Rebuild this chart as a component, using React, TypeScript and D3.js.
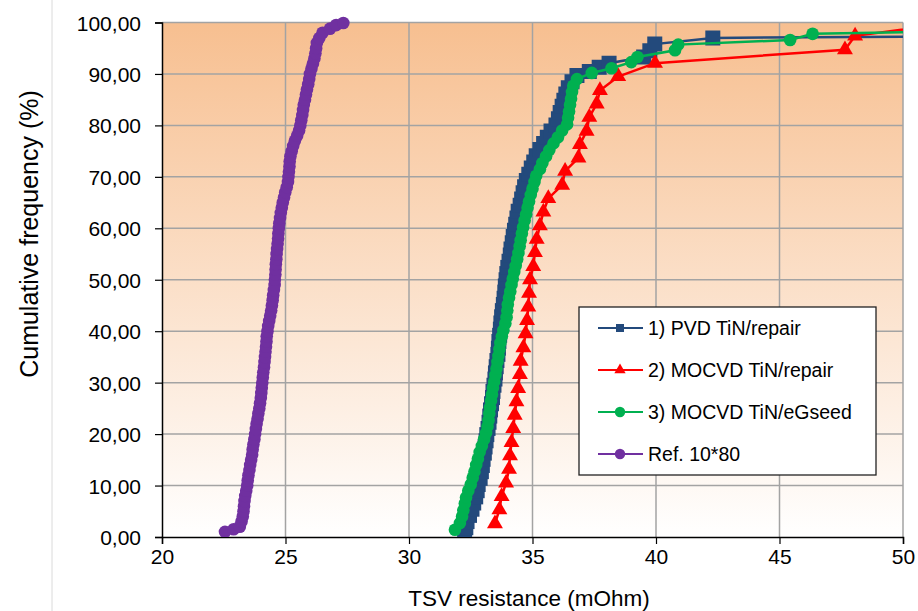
import * as d3 from "d3";
import { useEffect, useRef } from "react";

// [TSV resistance (mOhm), cumulative frequency (%)]
const pvdRepair: [number, number][] = [
  [32.25, 0.6], [32.3, 1.8], [32.35, 3.0], [32.45, 4.2], [32.55, 5.4], [32.62, 6.6], [32.7, 7.8],
  [32.76, 9.0], [32.8, 10.2], [32.88, 11.4], [32.93, 12.7], [32.97, 13.9], [33.0, 15.1], [33.05, 16.3],
  [33.08, 17.5], [33.12, 18.7], [33.15, 19.9], [33.2, 21.1], [33.24, 22.3], [33.27, 23.5], [33.3, 24.7],
  [33.34, 25.9], [33.38, 27.1], [33.4, 28.3], [33.44, 29.5], [33.48, 30.7], [33.5, 31.9], [33.53, 33.1],
  [33.56, 34.3], [33.6, 35.5], [33.62, 36.7], [33.64, 38.0], [33.67, 39.2], [33.7, 40.4], [33.72, 41.6],
  [33.75, 42.8], [33.78, 44.0], [33.82, 45.2], [33.85, 46.4], [33.88, 47.6], [33.9, 48.8], [33.93, 50.0],
  [33.96, 51.2], [34.0, 52.4], [34.05, 53.6], [34.1, 54.8], [34.13, 56.0], [34.18, 57.2], [34.22, 58.4],
  [34.27, 59.6], [34.32, 60.8], [34.37, 62.0], [34.42, 63.3], [34.5, 64.5], [34.56, 65.7], [34.62, 66.9],
  [34.68, 68.1], [34.75, 69.3], [34.85, 70.5], [34.95, 71.7], [35.05, 72.9], [35.15, 74.1], [35.3, 75.3],
  [35.45, 76.5], [35.6, 77.7], [35.75, 78.9], [35.95, 80.1], [36.05, 81.3], [36.12, 82.5], [36.2, 83.7],
  [36.27, 84.9], [36.35, 86.1], [36.45, 87.3], [36.6, 88.5], [36.8, 89.7], [37.3, 90.5], [37.7, 91.3],
  [38.1, 92.1], [39.5, 93.3], [39.75, 94.5], [39.95, 95.8], [42.3, 97.0], [58.0, 97.5],
];

const mocvdRepair: [number, number][] = [
  [33.48, 2.6], [33.66, 5.3], [33.75, 7.9], [33.93, 10.5], [34.05, 13.2], [34.09, 15.8], [34.15, 18.4],
  [34.22, 21.1], [34.28, 23.7], [34.35, 26.3], [34.42, 28.9], [34.49, 31.6], [34.52, 34.2], [34.63, 36.8],
  [34.72, 39.5], [34.78, 42.1], [34.83, 44.7], [34.86, 47.4], [34.9, 50.0], [35.03, 52.6], [35.1, 55.3],
  [35.17, 57.9], [35.3, 60.5], [35.44, 63.2], [35.64, 65.8], [36.2, 68.4], [36.32, 71.1], [36.86, 73.7],
  [36.92, 76.3], [37.19, 78.9], [37.3, 81.6], [37.6, 84.2], [37.73, 86.8], [38.47, 89.5], [39.96, 92.1],
  [47.65, 94.7], [48.06, 97.4], [52.2, 100.0],
];

const mocvdEGseed: [number, number][] = [
  [31.86, 1.4], [32.06, 2.7], [32.15, 4.0], [32.2, 5.2], [32.26, 6.5], [32.31, 7.7], [32.4, 9.0],
  [32.5, 10.2], [32.58, 11.5], [32.65, 12.7], [32.72, 14.0], [32.79, 15.2], [32.86, 16.5], [32.95, 17.7],
  [33.04, 19.0], [33.12, 20.2], [33.18, 21.5], [33.22, 22.7], [33.25, 24.0], [33.28, 25.2], [33.32, 26.5],
  [33.36, 27.7], [33.4, 29.0], [33.45, 30.2], [33.5, 31.5], [33.54, 32.7], [33.58, 34.0], [33.62, 35.2],
  [33.66, 36.5], [33.7, 37.7], [33.76, 39.0], [33.82, 40.2], [33.9, 41.5], [33.95, 42.7], [33.98, 44.0],
  [34.0, 45.2], [34.05, 46.5], [34.1, 47.7], [34.15, 49.0], [34.2, 50.2], [34.26, 51.5], [34.32, 52.7],
  [34.38, 54.0], [34.43, 55.2], [34.48, 56.5], [34.52, 57.7], [34.57, 59.0], [34.62, 60.2], [34.68, 61.5],
  [34.74, 62.7], [34.8, 64.0], [34.86, 65.2], [34.93, 66.5], [35.0, 67.7], [35.08, 69.0], [35.15, 70.2],
  [35.3, 71.5], [35.4, 72.7], [35.55, 74.0], [35.68, 75.2], [35.85, 76.5], [36.03, 77.7], [36.2, 79.0],
  [36.4, 80.2], [36.44, 81.5], [36.48, 82.7], [36.52, 84.0], [36.56, 85.2], [36.6, 86.5], [36.65, 87.7],
  [36.8, 89.0], [37.4, 90.2], [38.2, 91.1], [39.0, 92.3], [39.25, 93.3], [40.77, 94.6], [40.9, 95.7],
  [45.43, 96.6], [46.34, 97.8], [56.0, 98.6],
];

const ref1080: [number, number][] = [
  [22.55, 1.0], [22.9, 1.5], [23.15, 2.0], [23.22, 3.0], [23.27, 4.0], [23.3, 5.0], [23.32, 6.0],
  [23.34, 7.0], [23.37, 8.0], [23.41, 9.0], [23.45, 10.0], [23.47, 11.0], [23.5, 12.0], [23.54, 13.0],
  [23.57, 14.0], [23.61, 15.0], [23.65, 16.0], [23.67, 17.0], [23.7, 18.0], [23.74, 19.0], [23.77, 20.0],
  [23.8, 21.0], [23.83, 22.0], [23.87, 23.0], [23.9, 24.0], [23.94, 25.0], [23.97, 26.0], [24.0, 27.0],
  [24.02, 28.0], [24.04, 29.0], [24.06, 30.0], [24.08, 31.0], [24.1, 32.0], [24.13, 33.0], [24.15, 34.0],
  [24.17, 35.0], [24.19, 36.0], [24.21, 37.0], [24.23, 38.0], [24.24, 39.0], [24.27, 40.0], [24.3, 41.0],
  [24.34, 42.0], [24.38, 43.0], [24.42, 44.0], [24.45, 45.0], [24.48, 46.0], [24.5, 47.0], [24.53, 48.0],
  [24.56, 49.0], [24.57, 50.0], [24.59, 51.0], [24.6, 52.0], [24.61, 53.0], [24.63, 54.0], [24.64, 55.0],
  [24.66, 56.0], [24.68, 57.0], [24.7, 58.0], [24.71, 59.0], [24.73, 60.0], [24.75, 61.0], [24.78, 62.0],
  [24.81, 63.0], [24.85, 64.0], [24.89, 65.0], [24.94, 66.0], [24.99, 67.0], [25.05, 68.0], [25.1, 69.0],
  [25.12, 70.0], [25.14, 71.0], [25.16, 72.0], [25.17, 73.0], [25.2, 74.0], [25.25, 75.0], [25.31, 76.0],
  [25.38, 77.0], [25.47, 78.0], [25.55, 79.0], [25.6, 80.0], [25.64, 81.0], [25.68, 82.0], [25.71, 83.0],
  [25.74, 84.0], [25.79, 85.0], [25.83, 86.0], [25.87, 87.0], [25.92, 88.0], [25.96, 89.0], [25.99, 90.0],
  [26.05, 91.0], [26.11, 92.0], [26.17, 93.0], [26.21, 94.0], [26.24, 95.0], [26.27, 96.0], [26.37, 97.0],
  [26.5, 98.0], [26.8, 98.8], [27.05, 99.5], [27.34, 99.9],
];

const seriesNames = ["1) PVD TiN/repair", "2) MOCVD TiN/repair", "3) MOCVD TiN/eGseed", "Ref. 10*80"];
const seriesColors = ["#234A7C", "#FF0000", "#00B050", "#7030A0"];
const seriesShapes = ["square", "triangle", "circle", "circle"];
const xTicks = [20, 25, 30, 35, 40, 45, 50];
const yTicks = [0, 10, 20, 30, 40, 50, 60, 70, 80, 90, 100];

const FONT = "'Liberation Sans', Arial, sans-serif";

const App = () => {
  const ref = useRef<SVGSVGElement>(null);

  useEffect(() => {
    const svg = d3.select(ref.current);
    const width = 918;
    const height = 611;
    const left = 162;
    const right = 903;
    const top = 22.5;
    const bottom = 537;

    const x = d3.scaleLinear().domain([20, 50]).range([left, right]);
    const y = d3.scaleLinear().domain([0, 100]).range([bottom, top]);
    const fmt = d3.formatLocale({ decimal: ",", thousands: ".", grouping: [3], currency: ["", ""] }).format(".2f");

    svg.append("rect").attr("width", width).attr("height", height).attr("fill", "#fff");
    svg.append("line").attr("x1", 52).attr("x2", 52).attr("y1", 0).attr("y2", height)
      .attr("stroke", "#DADADA").attr("stroke-width", 1);

    const defs = svg.append("defs");
    const grad = defs.append("linearGradient").attr("id", "bg").attr("x1", 0).attr("x2", 0).attr("y1", 0).attr("y2", 1);
    grad.append("stop").attr("offset", "0%").attr("stop-color", "#F7BF90");
    grad.append("stop").attr("offset", "100%").attr("stop-color", "#FFFFFF");
    defs.append("clipPath").attr("id", "plot").append("rect")
      .attr("x", left).attr("y", top - 10).attr("width", right - left).attr("height", bottom - top + 10);

    svg.append("rect").attr("x", left).attr("y", top).attr("width", right - left).attr("height", bottom - top)
      .attr("fill", "url(#bg)");

    // grid
    const grid = svg.append("g").attr("stroke", "#A3A3A3").attr("stroke-width", 1.5);
    grid.selectAll(".gy").data(yTicks.filter((d) => d > 0)).enter().append("line")
      .attr("x1", left).attr("x2", right).attr("y1", (d) => y(d)).attr("y2", (d) => y(d));
    grid.selectAll(".gx").data(xTicks.filter((d) => d > 20)).enter().append("line")
      .attr("y1", top).attr("y2", bottom).attr("x1", (d) => x(d)).attr("x2", (d) => x(d));

    // axes
    const xAxis = svg.append("g").attr("transform", `translate(0,${bottom})`)
      .call(d3.axisBottom(x).tickValues(xTicks).tickSize(7).tickFormat((d) => String(d)));
    const yAxis = svg.append("g").attr("transform", `translate(${left},0)`)
      .call(d3.axisLeft(y).tickValues(yTicks).tickSize(7).tickFormat((d) => fmt(d as number)));
    [xAxis, yAxis].forEach((a) => {
      a.select(".domain").attr("stroke", "#000").attr("stroke-width", 1.5);
      a.selectAll(".tick line").attr("stroke", "#000").attr("stroke-width", 1.2);
      a.selectAll("text").attr("fill", "#000").style("font-family", FONT).style("font-size", "21px");
    });
    xAxis.selectAll("text").attr("dy", "1.0em").attr("y", 6);
    yAxis.selectAll("text").attr("x", -21).attr("dy", "0.36em");

    svg.append("text").attr("x", 529).attr("y", 606).attr("text-anchor", "middle")
      .style("font-family", FONT).style("font-size", "22.5px").text("TSV resistance (mOhm)");
    svg.append("text").attr("transform", `translate(38,234) rotate(-90)`).attr("text-anchor", "middle")
      .style("font-family", FONT).style("font-size", "25px").text("Cumulative frequency (%)");

    // series
    const line = d3.line<[number, number]>().x((d) => x(d[0])).y((d) => y(d[1]));
    const marker = (shape: string, big: boolean) => {
      if (shape === "square") return d3.symbol().type(d3.symbolSquare).size(big ? 225 : 64)();
      if (shape === "triangle") return d3.symbol().type(d3.symbolTriangle).size(big ? 110 : 55)();
      return d3.symbol().type(d3.symbolCircle).size(big ? 125 : 85)();
    };
    const allSeries = [pvdRepair, mocvdRepair, mocvdEGseed, ref1080];
    const plot = svg.append("g").attr("clip-path", "url(#plot)");
    allSeries.forEach((data, i) => {
      const g = plot.append("g");
      g.append("path").datum(data).attr("d", line).attr("fill", "none")
        .attr("stroke", seriesColors[i]).attr("stroke-width", 2.5);
      g.selectAll("path.m").data(data).enter().append("path").attr("class", "m")
        .attr("transform", (d) => `translate(${x(d[0])},${y(d[1])})`)
        .attr("d", marker(seriesShapes[i], true)).attr("fill", seriesColors[i]);
    });

    // legend
    const lg = svg.append("g");
    lg.append("rect").attr("x", 579).attr("y", 307).attr("width", 297).attr("height", 168)
      .attr("fill", "#fff").attr("stroke", "#222").attr("stroke-width", 1.3);
    const rows = [328, 370, 412, 454];
    seriesNames.forEach((name, i) => {
      const ly = rows[i];
      lg.append("line").attr("x1", 598).attr("x2", 643).attr("y1", ly).attr("y2", ly)
        .attr("stroke", seriesColors[i]).attr("stroke-width", 2);
      lg.append("path").attr("transform", `translate(620,${ly})`).attr("d", marker(seriesShapes[i], false))
        .attr("fill", seriesColors[i]);
      lg.append("text").attr("x", 648).attr("y", ly).attr("dy", "0.36em")
        .style("font-family", FONT).style("font-size", "19.5px").text(name);
    });

    return () => svg.selectAll("*").remove();
  }, []);

  return (
    <svg ref={ref} width={918} height={611} style={{ position: "absolute", left: 0, top: 0 }} />
  );
};

export default App;
